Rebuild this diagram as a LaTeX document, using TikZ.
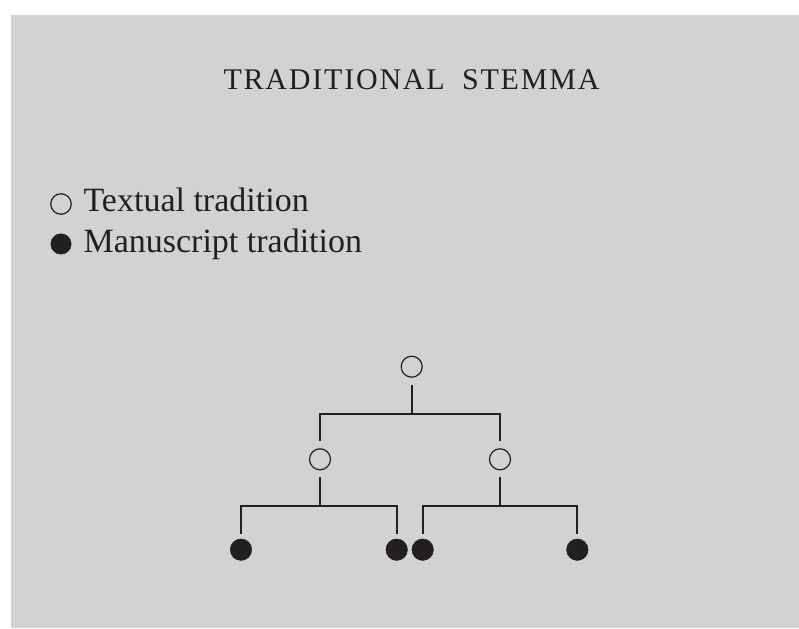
\documentclass[tikz,border=0pt]{standalone}
\usepackage{fontspec}
\setmainfont{Liberation Serif}
\usepackage{xcolor}
\usetikzlibrary{positioning}
\definecolor{ink}{HTML}{231F20}
\definecolor{panel}{HTML}{D1D2D4}
\tikzset{
  every node/.style={font=\fontsize{34}{40}\selectfont, text=ink},
  textual/.style={circle, draw=ink, line width=1.2pt, fill=none, minimum size=21pt, inner sep=0pt, outer sep=7.5pt},
  manuscript/.style={circle, draw=ink, fill=ink, line width=0.5pt, minimum size=21.5pt, inner sep=0pt, outer sep=5pt},
  legendmark/.style={circle, draw=ink, minimum size=20.5pt, inner sep=0pt},
  link/.style={draw=ink, line width=2pt},
  heading/.style={font=\fontsize{30}{36}\selectfont\addfontfeatures{LetterSpace=6}},
}
\begin{document}
\begin{tikzpicture}[x=1pt,y=1pt]
\useasboundingbox (0,0) rectangle (799,628);
\fill[panel] (11,0) rectangle (799,613);
\node[heading] (title) at (411.5,548) {TRADITIONAL\hspace{8pt} STEMMA};
% legend
\node[legendmark, line width=1.2pt] (keyopen) at (61,424) {};
\node[legendmark, fill=ink] (keyfull) at (61,384) {};
\node[anchor=base west] (keytext) at (80,416) {Textual tradition};
\node[anchor=base west] (keyms) at (80,375) {Manuscript tradition};
% stemma
\node[textual] (root) at (411.7,261.3) {};
\node[textual] (left) at (320,168.7) {};
\node[textual] (right) at (500,168.7) {};
\node[manuscript] (ms1) at (241,78.3) {};
\node[manuscript] (ms2) at (396.7,78.3) {};
\node[manuscript] (ms3) at (422.7,78.3) {};
\node[manuscript] (ms4) at (577.3,78.3) {};
\coordinate (j0) at (411.7,214);
\coordinate (j1) at (320,122);
\coordinate (j2) at (500,122);
\draw[link] (root.south) -- (j0);
\draw[link] (left.north) |- (j0) -| (right.north);
\draw[link] (left.south) -- (j1);
\draw[link] (ms1.north) |- (j1) -| (ms2.north);
\draw[link] (right.south) -- (j2);
\draw[link] (ms3.north) |- (j2) -| (ms4.north);
\end{tikzpicture}
\end{document}
